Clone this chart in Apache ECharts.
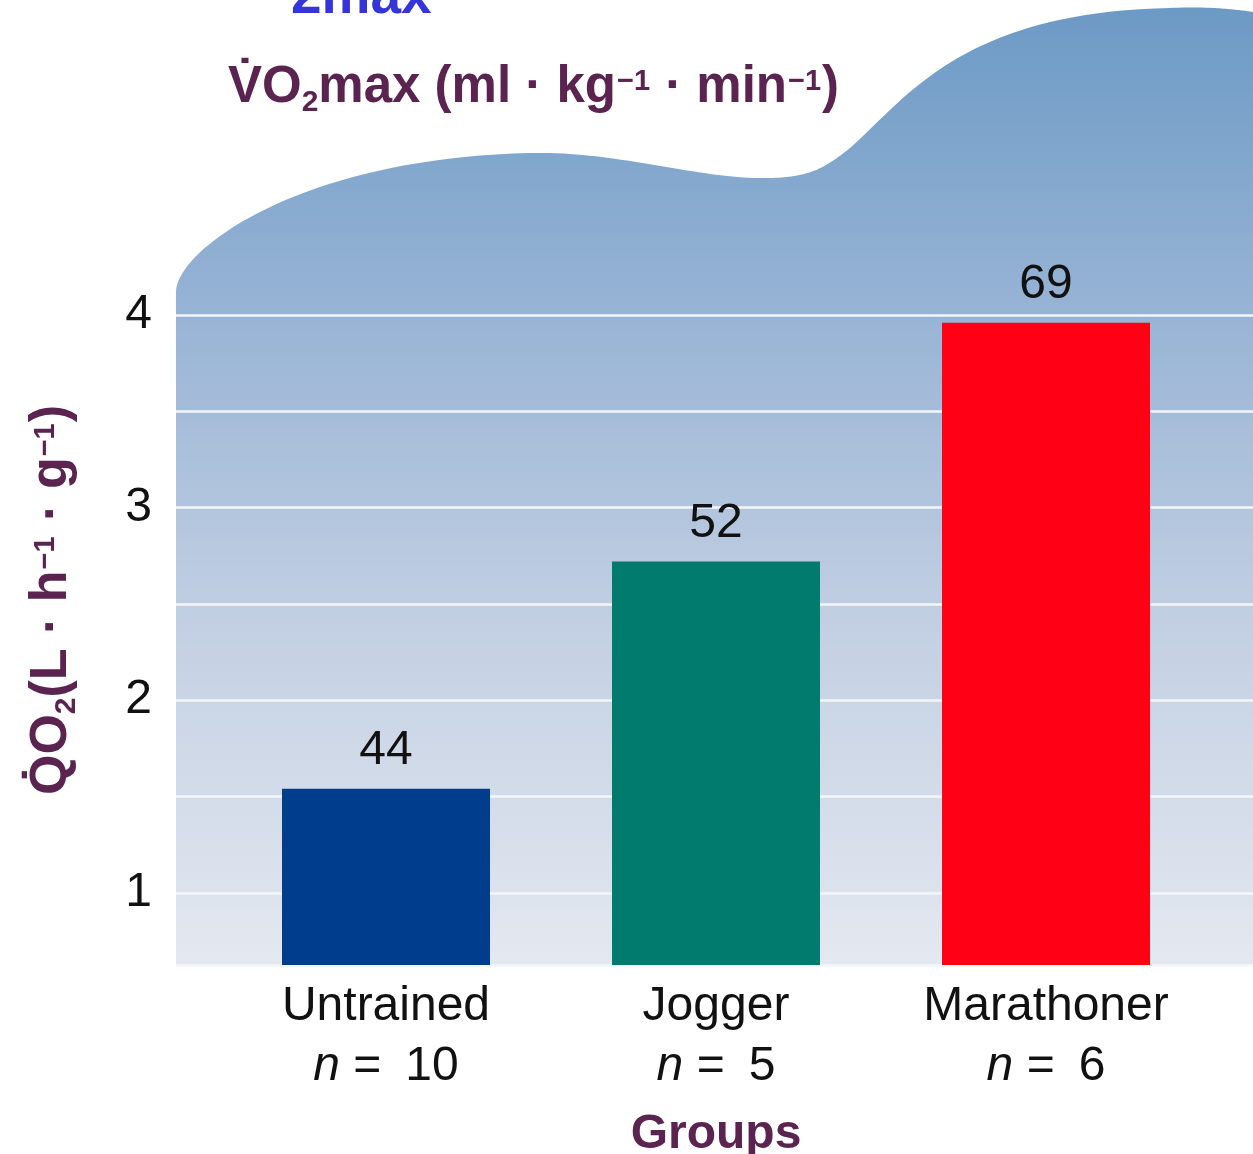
<!DOCTYPE html>
<html>
<head>
<meta charset="utf-8">
<style>
  html, body { margin: 0; padding: 0; background: #ffffff; }
  #chart { width: 1253px; height: 1154px; }
</style>
<script src="https://cdn.jsdelivr.net/npm/echarts@6/dist/echarts.min.js"></script>
</head>
<body>
<div id="chart"></div>
<script>
// ---- data ----
const categories = ['Untrained', 'Jogger', 'Marathoner'];
const groupSizes = [10, 5, 6];
const qo2Values = [1.54, 2.72, 3.96];      // QO2 (L·h-1·g-1), bar heights
const vo2maxValues = [44, 52, 69];         // VO2max labels above bars
const yTickLabels = ['1', '2', '3', '4'];

// ---- styles ----
const barColors = ['#003d8c', '#007b6d', '#ff0014'];
const purple = '#5b2350';
const FONT = 'Liberation Sans, Arial, Helvetica, sans-serif';

// decorative wave backdrop outline (bezier segments, pixel space)
const waveSegments = [
  [[176, 292], [176, 250], [300, 158], [530, 153]],
  [[530, 153], [620, 151], [700, 180], [770, 178]],
  [[770, 178], [810, 177], [825, 168], [850, 148]],
  [[850, 148], [905, 100], [960, 12], [1170, 8]],
  [[1170, 8], [1210, 6], [1240, 10], [1253, 12]]
];
function wavePoints() {
  const pts = [[176, 965]];
  waveSegments.forEach(seg => {
    for (let k = 0; k <= 40; k++) {
      const t = k / 40, u = 1 - t;
      const b = [u * u * u, 3 * u * u * t, 3 * u * t * t, t * t * t];
      pts.push([
        b[0] * seg[0][0] + b[1] * seg[1][0] + b[2] * seg[2][0] + b[3] * seg[3][0],
        b[0] * seg[0][1] + b[1] * seg[1][1] + b[2] * seg[2][1] + b[3] * seg[3][1]
      ]);
    }
  });
  pts.push([1253, 965]);
  return pts;
}

const chart = echarts.init(document.getElementById('chart'));

const Y_MIN = 0.625, Y_MAX = 4;

function richFor(size) {
  return {
    m: { fontFamily: FONT, fontSize: size, fontWeight: 'bold', fill: purple, lineHeight: 60 },
    sub: { fontFamily: FONT, fontSize: 30, fontWeight: 'bold', fill: purple, lineHeight: 30, verticalAlign: 'bottom' },
    sup: { fontFamily: FONT, fontSize: 29, fontWeight: 'bold', fill: purple, lineHeight: 30, verticalAlign: 'top', padding: [9, 1, 0, 1] }
  };
}

const option = {
  animation: false,
  backgroundColor: '#ffffff',
  grid: [
    { left: 176, right: 0, top: 315, bottom: 189, outerBoundsMode: 'none', containLabel: false },
    { left: 221, right: 42, top: 315, bottom: 189, outerBoundsMode: 'none', containLabel: false }
  ],
  xAxis: [
    { type: 'value', gridIndex: 0, show: false, min: 0, max: 1 },
    {
      type: 'category', gridIndex: 1, data: categories,
      axisLine: { show: false }, axisTick: { show: false },
      axisLabel: {
        margin: 12,
        formatter: function (v, i) {
          return '{a|' + v + '}\n{i|n}{a| =\u2002' + groupSizes[i] + '}';
        },
        rich: {
          a: { fontFamily: FONT, fontSize: 48, color: '#111', lineHeight: 60 },
          i: { fontFamily: FONT, fontSize: 48, fontStyle: 'italic', color: '#111', lineHeight: 60 }
        }
      },
      name: 'Groups', nameLocation: 'middle', nameGap: 146,
      nameTextStyle: { fontFamily: FONT, fontSize: 48, fontWeight: 'bold', color: purple }
    }
  ],
  yAxis: [
    {
      type: 'value', gridIndex: 0, min: Y_MIN, max: Y_MAX, splitNumber: 7,
      axisLine: { show: false }, axisTick: { show: false },
      splitLine: { show: true, lineStyle: { color: '#f3f6fa', width: 2.5 } },
      axisLabel: {
        margin: 24, fontFamily: FONT, fontSize: 48, color: '#111',
        formatter: function (v) {
          const s = String(Math.round(v * 1000) / 1000);
          return yTickLabels.indexOf(s) >= 0 ? s : '';
        }
      }
    },
    { type: 'value', gridIndex: 1, min: Y_MIN, max: Y_MAX, show: false, splitLine: { show: false } }
  ],
  series: [
    {
      type: 'bar', xAxisIndex: 1, yAxisIndex: 1, barWidth: 208,
      data: qo2Values.map((v, i) => ({ value: v, itemStyle: { color: barColors[i] } })),
      label: {
        show: true, position: 'top', distance: 14,
        fontFamily: FONT, fontSize: 48, color: '#111',
        formatter: p => String(vo2maxValues[p.dataIndex])
      }
    }
  ],
  graphic: [
    {
      type: 'polygon', z: -100, silent: true,
      shape: { points: wavePoints() },
      style: {
        fill: {
          type: 'linear', x: 0, y: 0, x2: 0, y2: 1,
          colorStops: [
            { offset: 0, color: '#6c9ac5' },
            { offset: 0.3, color: '#95b2d4' },
            { offset: 0.65, color: '#c3d0e3' },
            { offset: 1, color: '#e4e8f0' }
          ]
        }
      }
    },
    {
      type: 'text', z: 100, x: 291, y: 25, silent: true,
      style: {
        text: '2max', fill: '#3434d8', font: 'bold 55px ' + FONT,
        textAlign: 'left', textVerticalAlign: 'bottom'
      }
    },
    {
      type: 'text', z: 100, x: 228, y: 58, silent: true,
      style: {
        text: '{m|V\u0307O}{sub|2}{m|max (ml \u00b7 kg}{sup|\u22121}{m| \u00b7 min}{sup|\u22121}{m|)}',
        textAlign: 'left', textVerticalAlign: 'top',
        rich: richFor(51)
      }
    },
    {
      type: 'text', z: 100, x: 52, y: 600, rotation: Math.PI / 2, silent: true,
      style: {
        text: '{m|Q\u0307O}{sub|2}{m|(L \u00b7 h}{sup|\u22121}{m| \u00b7 g}{sup|\u22121}{m|)}',
        textAlign: 'center', textVerticalAlign: 'middle',
        rich: richFor(52)
      }
    }
  ]
};

chart.setOption(option);
</script>
</body>
</html>
